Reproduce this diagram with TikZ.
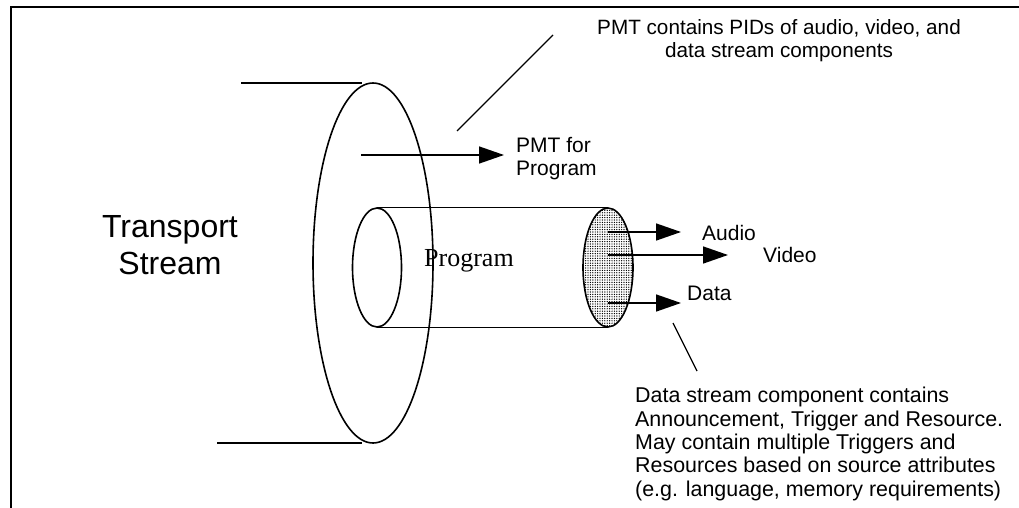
\documentclass[tikz,border=0pt]{standalone}
\usepackage{fontspec}
\setmainfont{Liberation Sans}
\newfontfamily\timesfont{Liberation Serif}
\usetikzlibrary{arrows.meta,shapes.geometric,patterns.meta}
\begin{document}
\begin{tikzpicture}[x=1pt,y=-1pt,
  frame/.style={line width=2pt},
  curve/.style={draw,ellipse,inner sep=0pt,line width=1.6pt},
  hline/.style={line width=1.3pt},
  arr/.style={line width=1.5pt,-{Triangle[length=25pt,width=17pt]}},
  lbl/.style={inner sep=0pt,font=\fontsize{21}{23.5}\selectfont},
  big/.style={inner sep=0pt,font=\fontsize{32}{37}\selectfont}]
\useasboundingbox (0,0) rectangle (1019,508);
% frame (cropped)
\coordinate (fb) at (11,508);
\coordinate (fc) at (11,7);
\coordinate (fr) at (1019,7);
\draw[frame] (fb) -- (fc) -- (fr);
% transport stream ring
\node[curve,minimum width=120pt,minimum height=360pt] (ring) at (373,263) {};
\coordinate (t1) at (241,83);
\coordinate (t2) at (362,83);
\coordinate (b1) at (217,443);
\coordinate (b2) at (362,443);
\draw[hline] (t1) -- (t2);
\draw[hline] (b1) -- (b2);
% program cylinder
\node[curve,minimum width=49pt,minimum height=119pt] (back) at (377,267.5) {};
\node[curve,pattern={Dots[distance=2.4pt,radius=0.7pt]},minimum width=50pt,minimum height=119pt] (front) at (608,267.5) {};
\draw[hline] (back.north) -- (front.north);
\draw[hline] (back.south) -- (front.south);
% texts
\node[big,align=center,anchor=north] (ts) at (170,215) {Transport\\Stream};
\node[inner sep=0pt,anchor=base west,font=\timesfont\fontsize{26}{30}\selectfont] (prog) at (424,266) {Program};
\node[lbl,font=\fontsize{20.7}{23.5}\selectfont,align=center,anchor=north] (pmtnote) at (779,19) {PMT contains PIDs of audio, video, and\\data stream components};
\node[lbl,align=left,anchor=north west] (pmt) at (516,137) {PMT for\\Program};
\node[lbl,anchor=base west] (audio) at (702,240) {Audio};
\node[lbl,anchor=base west] (video) at (763,262) {Video};
\node[lbl,anchor=base west] (data) at (687,300) {Data};
\node[lbl,font=\fontsize{21.4}{23.4}\selectfont,align=left,anchor=north west] (dnote) at (635,387) {Data stream component contains\\Announcement, Trigger and Resource.\\May contain multiple Triggers and\\Resources based on source attributes\\(e.g. language, memory requirements)};
% arrows
\coordinate (pa) at (361,155);
\coordinate (pb) at (504,155);
\draw[arr] (pa) -- (pb);
\coordinate (aa) at (608,232);
\coordinate (ab) at (681,232);
\draw[arr] (aa) -- (ab);
\coordinate (va) at (608,255);
\coordinate (vb) at (728,255);
\draw[arr] (va) -- (vb);
\coordinate (da) at (608,303);
\coordinate (db) at (681,303);
\draw[arr] (da) -- (db);
% leader lines
\coordinate (l1a) at (457,131);
\coordinate (l1b) at (553,35);
\draw[hline] (l1a) -- (l1b);
\coordinate (l2a) at (673,323);
\coordinate (l2b) at (697,371);
\draw[hline] (l2a) -- (l2b);
\end{tikzpicture}
\end{document}
